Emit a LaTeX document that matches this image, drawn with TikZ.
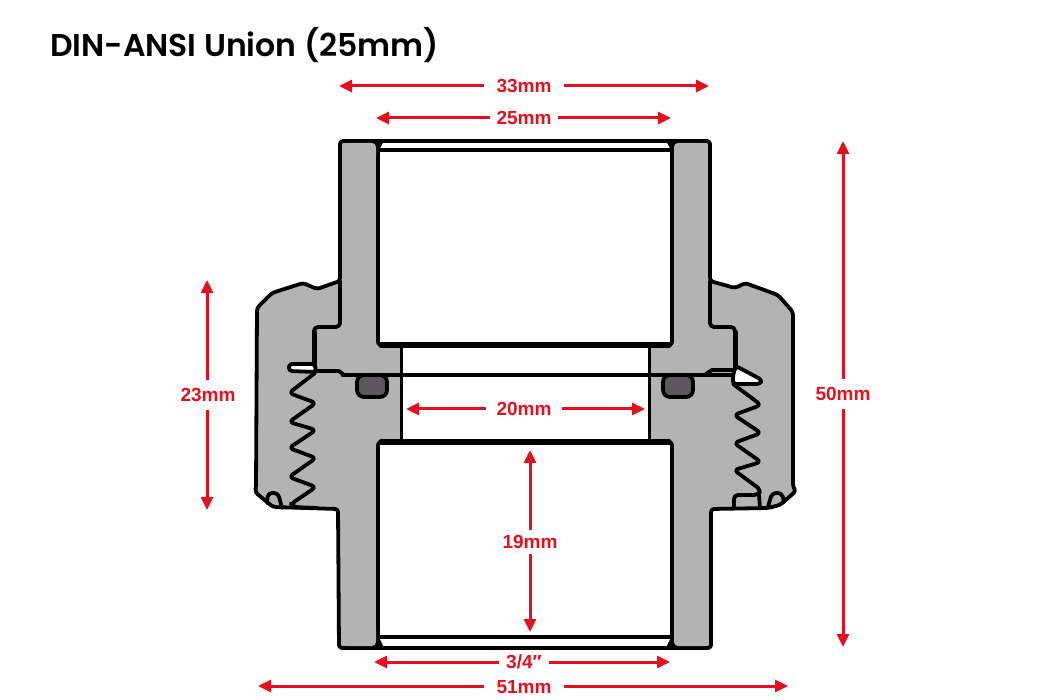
\documentclass[tikz,border=0pt]{standalone}
\usepackage{fontspec}
\setmainfont{Liberation Sans}
\newfontfamily\titlefont[BoldFont={Poppins SemiBold}]{Poppins}
\usetikzlibrary{arrows.meta}
\definecolor{partgray}{HTML}{B3B3B3}
\definecolor{ringgray}{HTML}{5A585A}
\definecolor{dimred}{HTML}{E5101F}
\tikzset{
	partline/.style={draw=black, line width=3.8pt, line join=round, line cap=round},
	threadline/.style={partline, rounded corners=4pt},
	dimarrow/.style={draw=dimred, line width=3pt, -{Triangle[length=13pt,width=12pt]}},
	dimlabel/.style={text=dimred, font=\fontsize{19}{20}\selectfont\bfseries, inner ysep=0pt},
	oring/.style={partline, fill=ringgray, rounded corners=7pt}
}
\begin{document}
\begin{tikzpicture}[x=1pt, y=-1pt]
	\useasboundingbox (0,0) rectangle (1050,700);
	\node (title) [anchor=west, inner sep=0pt, font=\titlefont\bfseries\fontsize{31.5}{33}\selectfont] at (50,45) {DIN-ANSI Union (25mm)};

	% body outline
	\draw[partline, fill=partgray, rounded corners=3pt] (340,141) -- (710,141) -- (710,281) -- (735,288) -- (745,283) -- (778,295) -- (793,312) -- (793,487) -- (796,491) -- (780,505) -- (768,508) -- (711,509) -- (711,648) -- (339,648) -- (338,509) -- (273,507) -- (255,492) -- (256,487) -- (257,308) -- (272,293) -- (303,283) -- (317,289) -- (340,281) -- cycle;

	% bores
	\draw[partline, fill=white, rounded corners=3pt] (378,141) -- (378,345) -- (672,345) -- (672,141);
	\draw[partline, fill=white, rounded corners=3pt] (378,648) -- (378,442) -- (672,442) -- (672,648);
	\draw[partline, line width=3pt, fill=white] (401,345) rectangle (649,442);
	\draw[partline, line width=5.5pt] (381,345) -- (669,345);
	\draw[partline, line width=5.5pt] (381,442) -- (669,442);
	\draw[partline, line width=3.4pt] (378,150) -- (672,150);
	\draw[partline, line width=3.4pt] (378,637) -- (672,637);
	\draw[partline] (376,141) -- (674,141);
	\draw[partline] (376,648) -- (674,648);
	\draw[partline, line width=4.6pt] (343,375) -- (733,375);

	% block corners at the bore ends
	\fill[black] (368,141) -- (384,141) -- (379,150) -- (368,152) -- cycle;
	\fill[black] (682,141) -- (666,141) -- (671,150) -- (682,152) -- cycle;
	\fill[black] (368,648) -- (384,648) -- (379,637) -- (368,635) -- cycle;
	\fill[black] (682,648) -- (666,648) -- (671,637) -- (682,635) -- cycle;
	\fill[partgray, rounded corners=4pt] (343,143) -- (376,143) -- (376,160) -- (343,160) -- cycle;
	\fill[partgray, rounded corners=4pt] (707,143) -- (674,143) -- (674,160) -- (707,160) -- cycle;
	\fill[partgray, rounded corners=4pt] (343,646) -- (376,646) -- (376,625) -- (343,625) -- cycle;
	\fill[partgray, rounded corners=4pt] (708,646) -- (674,646) -- (674,625) -- (708,625) -- cycle;

	% left nut
	\draw[threadline] (340,281) -- (340,327) -- (314,327) -- (314,364);
	\draw[partline, line width=5pt] (314,332) -- (314,366);
	\draw[partline, fill=white, rounded corners=3pt] (315,364) -- (289,364) -- (289,371) -- (316,372) -- cycle;
	\draw[partline] (316,371) -- (339,371) -- (344,375);
	\draw[threadline] (315,373) -- (289,393) -- (316,403) -- (289,422) -- (316,430) -- (289,448) -- (316,458) -- (289,477) -- (316,487) -- (291,504) -- (293,507) -- (317,508);
	\draw[threadline] (267,503) -- (268,493) -- (278,493) -- (282,508);

	% right nut
	\draw[threadline] (710,281) -- (710,327) -- (735,327) -- (735,367);
	\draw[partline, line width=5pt] (735,332) -- (735,366);
	\draw[partline, fill=white, rounded corners=3pt] (736,366) -- (762,380) -- (760,384) -- (733,384) -- (733,375) -- cycle;
	\draw[partline] (734,370) -- (712,370) -- (706,374);
	\draw[threadline] (733,384) -- (761,405) -- (734,415) -- (761,433) -- (734,443) -- (761,462) -- (734,470) -- (761,490) -- (758,495) -- (734,495) -- (734,508);
	\draw[threadline] (759,495) -- (760,508);
	\draw[threadline] (768,507) -- (772,493) -- (782,493) -- (784,502);

	% o-rings
	\draw[oring] (357,375) rectangle (387,397);
	\draw[oring] (663,375) rectangle (693,397);

	% dimensions
	\node (d33) [dimlabel, inner xsep=12pt] at (524,86) {33mm};
	\node (d25) [dimlabel, inner xsep=6pt] at (524,118) {25mm};
	\node (d23) [dimlabel, inner xsep=1pt, inner ysep=8pt] at (208,395) {23mm};
	\node (d50) [dimlabel, inner xsep=1pt, inner ysep=8pt] at (843,394) {50mm};
	\node (d20) [dimlabel, inner xsep=10pt] at (524,409) {20mm};
	\node (d19) [dimlabel, inner xsep=1pt, inner ysep=5pt] at (530,542) {19mm};
	\node (d34) [dimlabel, inner xsep=7pt] at (524,662) {3/4\char"2033};
	\node (d51) [dimlabel, inner xsep=12pt] at (524,687) {51mm};
	\coordinate (d33l) at (339,86);
	\coordinate (d33r) at (709,86);
	\coordinate (d25l) at (376,118);
	\coordinate (d25r) at (671,118);
	\coordinate (d23t) at (207,280);
	\coordinate (d23b) at (207,510);
	\coordinate (d50t) at (843,141);
	\coordinate (d50b) at (843,647);
	\coordinate (d20l) at (406,409);
	\coordinate (d20r) at (645,409);
	\coordinate (d19t) at (530,450);
	\coordinate (d19b) at (530,632);
	\coordinate (d34l) at (374,662);
	\coordinate (d34r) at (670,662);
	\coordinate (d51l) at (258,686);
	\coordinate (d51r) at (788,686);
	\draw[dimarrow] (d33.west |- d33l) -- (d33l);
	\draw[dimarrow] (d33.east |- d33r) -- (d33r);
	\draw[dimarrow] (d25.west |- d25l) -- (d25l);
	\draw[dimarrow] (d25.east |- d25r) -- (d25r);
	\draw[dimarrow] (d23t |- d23.north) -- (d23t);
	\draw[dimarrow] (d23b |- d23.south) -- (d23b);
	\draw[dimarrow] (d50t |- d50.north) -- (d50t);
	\draw[dimarrow] (d50b |- d50.south) -- (d50b);
	\draw[dimarrow] (d20.west |- d20l) -- (d20l);
	\draw[dimarrow] (d20.east |- d20r) -- (d20r);
	\draw[dimarrow] (d19t |- d19.north) -- (d19t);
	\draw[dimarrow] (d19b |- d19.south) -- (d19b);
	\draw[dimarrow] (d34.west |- d34l) -- (d34l);
	\draw[dimarrow] (d34.east |- d34r) -- (d34r);
	\draw[dimarrow] (d51.west |- d51l) -- (d51l);
	\draw[dimarrow] (d51.east |- d51r) -- (d51r);
\end{tikzpicture}
\end{document}
